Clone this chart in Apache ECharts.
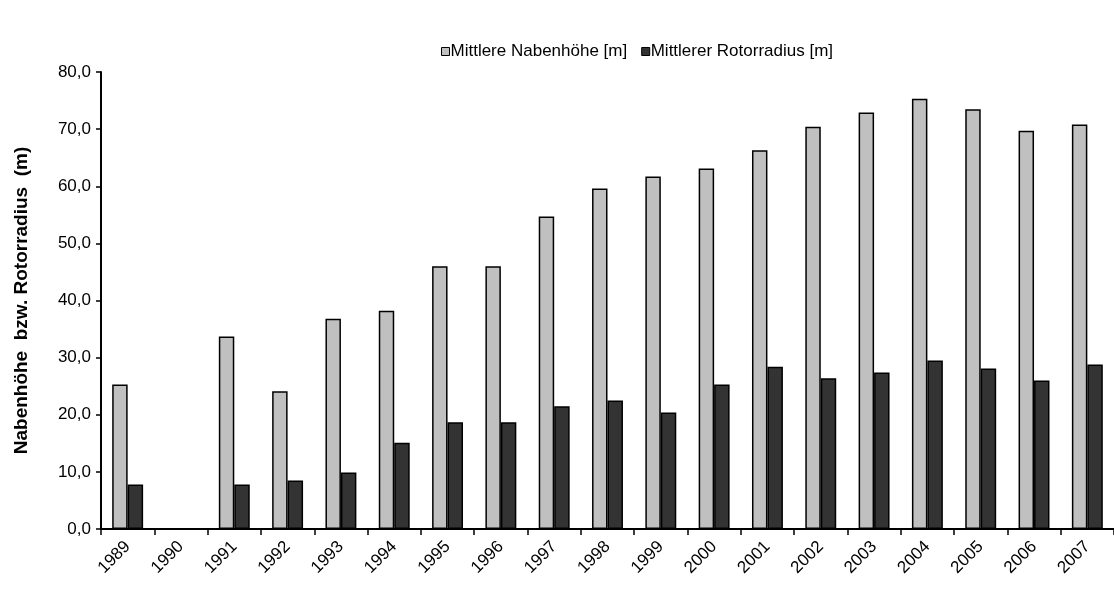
<!DOCTYPE html>
<html>
<head>
<meta charset="utf-8">
<script src="https://cdn.jsdelivr.net/npm/echarts@6/dist/echarts.min.js"></script>
<style>
html,body{margin:0;padding:0;background:#fff;}
#chart{width:1114px;height:590px;}
</style>
</head>
<body>
<div id="chart"></div>
<script>
const years = ['1989','1990','1991','1992','1993','1994','1995','1996','1997','1998','1999','2000','2001','2002','2003','2004','2005','2006','2007'];
const nabenhoehe = [25.3, null, 33.7, 24.1, 36.8, 38.2, 46.0, 46.0, 54.7, 59.6, 61.7, 63.1, 66.3, 70.4, 72.9, 75.3, 73.5, 69.7, 70.8];
const rotorradius = [7.8, null, 7.8, 8.5, 9.9, 15.1, 18.7, 18.7, 21.5, 22.5, 20.4, 25.3, 28.4, 26.4, 27.4, 29.5, 28.1, 26.0, 28.8];
const seriesNames = ['Mittlere Nabenhöhe [m]', 'Mittlerer Rotorradius [m]'];
const yTitle = 'Nabenhöhe  bzw. Rotorradius  (m)';

const chart = echarts.init(document.getElementById('chart'), null, {renderer:'canvas'});
const font = 'Liberation Sans, Arial, sans-serif';
chart.setOption({
  animation: false,
  backgroundColor: '#fff',
  textStyle: {fontFamily: font, color: '#000'},
  legend: {
    data: seriesNames,
    top: 38,
    left: 436,
    itemWidth: 8,
    itemHeight: 8,
    itemGap: 14,
    icon: 'rect',
    textStyle: {fontFamily: font, fontSize: 17, color: '#000', padding: [0,0,0,-4]},
    itemStyle: {borderColor: '#000', borderWidth: 1}
  },
  grid: {left: 101, right: -4, top: 72, bottom: 61, containLabel: false},
  xAxis: {
    type: 'category',
    data: years,
    axisLine: {lineStyle: {color: '#000', width: 2}},
    axisTick: {show: true, alignWithLabel: false, length: 6, lineStyle: {color: '#000', width: 1.5}},
    axisLabel: {rotate: 45, color: '#000', fontFamily: font, fontSize: 17, margin: 15, interval: 0}
  },
  yAxis: {
    type: 'value',
    min: 0, max: 80, interval: 10,
    name: yTitle,
    nameLocation: 'middle',
    nameGap: 70,
    nameTextStyle: {fontFamily: font, fontSize: 19, fontWeight: 'bold', color: '#000'},
    axisLine: {show: true, lineStyle: {color: '#000', width: 2}},
    axisTick: {show: true, length: 5, lineStyle: {color: '#000', width: 1.5}},
    splitLine: {show: false},
    axisLabel: {color: '#000', fontFamily: font, fontSize: 17, margin: 10,
      formatter: v => v.toFixed(1).replace('.', ',')}
  },
  series: [
    {name: seriesNames[0], type: 'bar', data: nabenhoehe, barGap: '0%', barCategoryGap: '42%',
     itemStyle: {color: '#C0C0C0', borderColor: '#000', borderWidth: 1.5}},
    {name: seriesNames[1], type: 'bar', data: rotorradius, barGap: '0%', barCategoryGap: '42%',
     itemStyle: {color: '#333333', borderColor: '#000', borderWidth: 1.5}}
  ]
});
</script>
</body>
</html>
